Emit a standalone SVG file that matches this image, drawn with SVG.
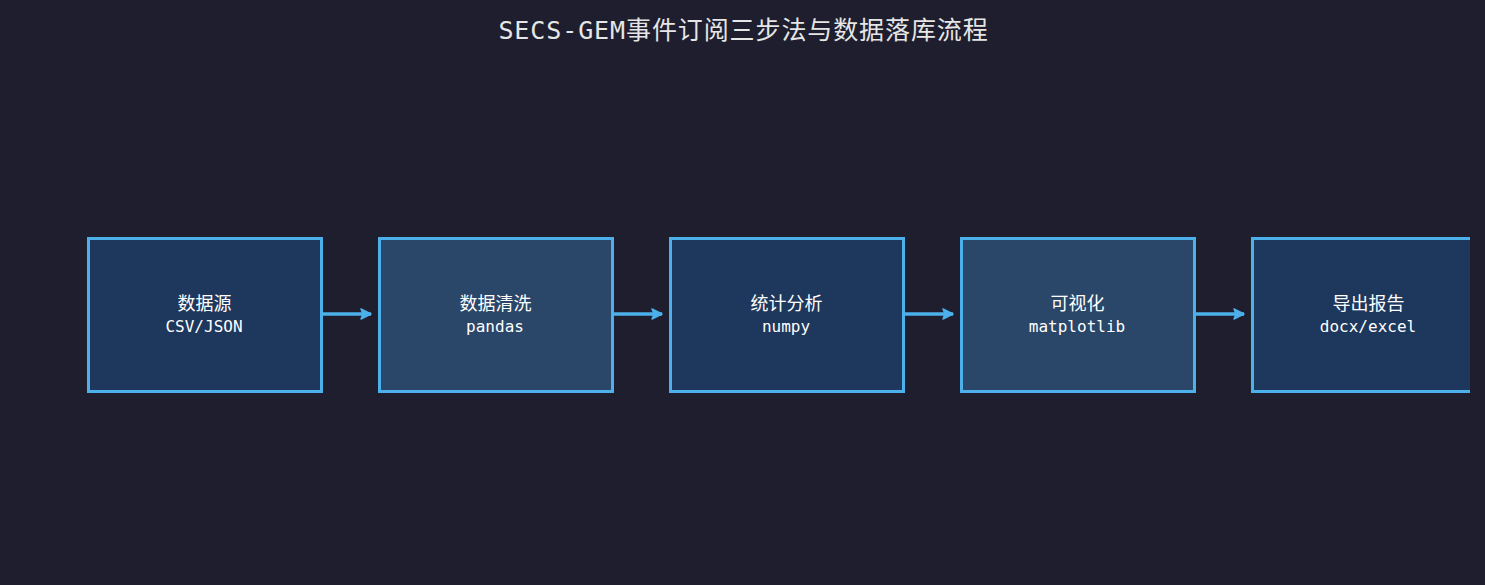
<svg xmlns="http://www.w3.org/2000/svg" width="1485" height="585" viewBox="0 0 1485 585">
<defs>
<style>
.box{stroke:#4cb0ea;stroke-width:3}
.d{fill:#1e375c}
.l{fill:#2a4668}
.t1{font-family:"DejaVu Sans Mono","Noto Sans CJK SC",monospace;font-size:18px;fill:#ffffff;text-anchor:middle}
.t2{font-family:"DejaVu Sans Mono","Noto Sans CJK SC",monospace;font-size:16px;fill:#ffffff;text-anchor:middle}
.title{font-family:"DejaVu Sans Mono","Noto Sans CJK SC",monospace;font-size:25px;letter-spacing:0.9px;fill:#e6e6e6;text-anchor:middle}
.c{stroke:#4cb0ea;stroke-width:3.5;fill:none}
</style>
<marker id="ah" markerWidth="12" markerHeight="12" refX="11" refY="6" orient="auto" markerUnits="userSpaceOnUse">
<path d="M1,1 L11,6 L1,11 L3,6 Z" fill="#4cb0ea" stroke="#4cb0ea" stroke-width="1.5" stroke-linejoin="round"/>
</marker>
<clipPath id="cp"><rect x="0" y="0" width="1470" height="585"/></clipPath>
</defs>
<rect x="0" y="0" width="1485" height="585" fill="#1e1e2e"/>
<text class="title" x="743.5" y="38.5">SECS-GEM事件订阅三步法与数据落库流程</text>
<g id="connectors">
<line class="c" x1="322" y1="314" x2="371" y2="314" marker-end="url(#ah)"/>
<line class="c" x1="613" y1="314" x2="662" y2="314" marker-end="url(#ah)"/>
<line class="c" x1="904" y1="314" x2="953" y2="314" marker-end="url(#ah)"/>
<line class="c" x1="1195" y1="314" x2="1244" y2="314" marker-end="url(#ah)"/>
</g>
<g id="n1">
<rect class="box d" x="88.5" y="238.5" width="233" height="153"/>
<text class="t1" x="204.5" y="310">数据源</text>
<text class="t2" x="204" y="331.5">CSV/JSON</text>
</g>
<g id="n2">
<rect class="box l" x="379.5" y="238.5" width="233" height="153"/>
<text class="t1" x="495.5" y="310">数据清洗</text>
<text class="t2" x="495" y="331.5">pandas</text>
</g>
<g id="n3">
<rect class="box d" x="670.5" y="238.5" width="233" height="153"/>
<text class="t1" x="786.5" y="310">统计分析</text>
<text class="t2" x="786" y="331.5">numpy</text>
</g>
<g id="n4">
<rect class="box l" x="961.5" y="238.5" width="233" height="153"/>
<text class="t1" x="1077.5" y="310">可视化</text>
<text class="t2" x="1077" y="331.5">matplotlib</text>
</g>
<g id="n5" clip-path="url(#cp)">
<rect class="box d" x="1252.5" y="238.5" width="233" height="153"/>
<text class="t1" x="1368.5" y="310">导出报告</text>
<text class="t2" x="1368" y="331.5">docx/excel</text>
</g>
</svg>
